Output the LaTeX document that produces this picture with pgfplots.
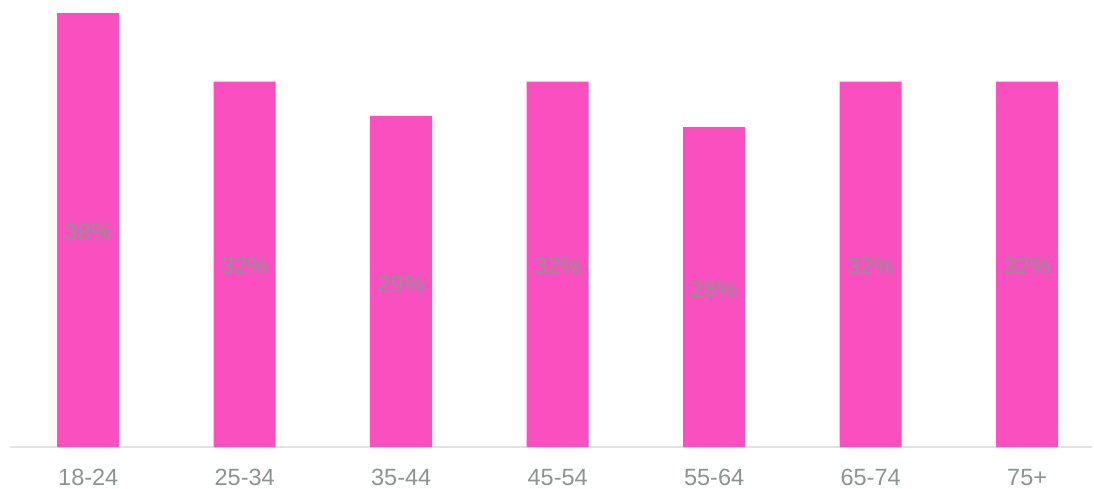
\documentclass[border=0pt]{standalone}
\usepackage{fontspec}
\setmainfont{Liberation Sans}
\usepackage{pgfplots}
\pgfplotsset{compat=1.18}
\definecolor{barpink}{HTML}{F94FBF}
\definecolor{labgray}{HTML}{8C9490}
\definecolor{axgray}{HTML}{E2E2E2}
\begin{document}
\begin{tikzpicture}
\begin{axis}[
    at={(0,0)}, anchor=south west,
    scale only axis,
    width=1082pt, height=447pt,
    xmin=-0.5, xmax=6.415,
    ymin=0, ymax=39.142,
    axis x line*=bottom,
    axis y line=none,
    x axis line style={axgray, line width=1.2pt, -},
    xtick=data,
    xticklabels={18-24,25-34,35-44,45-54,55-64,65-74,75+},
    major tick length=0pt,
    x tick label style={font=\fontsize{23.5}{28}\selectfont, text=labgray, inner sep=0pt, yshift=-22pt},
    ybar, bar width=62pt,
    /pgf/number format/assume math mode=true,
    nodes near coords={\pgfmathprintnumber{\pgfplotspointmeta}\%},
    visualization depends on={rawy \as \rawy},
    every node near coord/.append style={anchor=center, font=\fontsize{23.5}{28}\selectfont, text=labgray,
        yshift=-0.5*\rawy*11.42pt-2.5pt},
    clip=false,
]
\addplot[fill=barpink, draw=none] coordinates {
 (0,38) (1,32) (2,29) (3,32) (4,28) (5,32) (6,32)
};
\end{axis}
\pgfresetboundingbox
\path (-10pt,-41pt) rectangle (1084pt,447pt);
\end{tikzpicture}
\end{document}
